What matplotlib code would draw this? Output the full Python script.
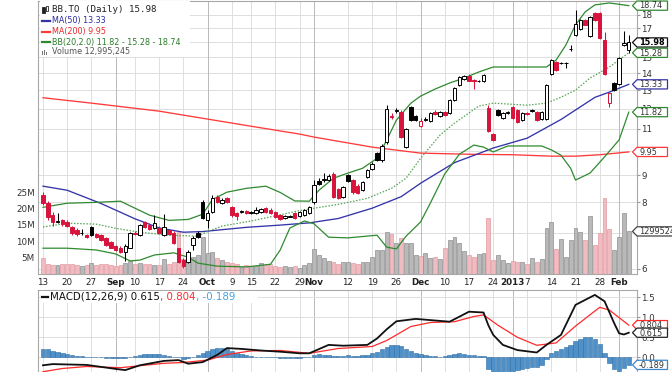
import numpy as np
import pandas as pd
import matplotlib
matplotlib.use('Agg')
import matplotlib.pyplot as plt
from matplotlib.patches import Rectangle, Polygon
from matplotlib.lines import Line2D
from matplotlib.ticker import FixedLocator, NullLocator
from matplotlib.transforms import blended_transform_factory, IdentityTransform

plt.rcParams['font.family'] = ['DejaVu Sans']

# ---------------- data ----------------
holidays = ['2012-09-03', '2012-10-08', '2012-12-25', '2012-12-26', '2013-01-01']
days = pd.bdate_range('2012-08-13', '2013-02-05', freq='C', holidays=holidays)

prev_close = 8.40
opens = [8.25, 7.97, 7.57, 7.36, 7.40, 7.34, 7.18, 7.09, 7.00, 6.94,
         7.18, 6.97, 6.94, 6.85, 6.73, 6.61, 6.56, 6.45, 6.58, 7.02,
         6.94, 7.34, 7.25, 7.15, 7.15, 6.94, 7.09, 7.00, 6.56, 6.23,
         6.18, 6.64, 7.00, 8.00, 7.40, 7.67, 8.18, 7.97, 8.14, 7.83,
         7.63, 7.68, 7.70, 7.65, 7.63, 7.67, 7.80, 7.73, 7.67, 7.57,
         7.47, 7.52, 7.63, 7.53, 7.57, 7.63, 8.00, 8.77, 8.82, 8.80,
         9.04, 8.47, 8.18, 9.00, 8.80, 8.60, 8.43, 8.92, 9.23, 9.90,
         9.60, 10.38, 11.60, 11.90, 11.82, 10.16, 12.08, 11.60, 11.15, 11.44,
         11.38, 11.85, 11.62, 11.82, 11.77, 12.45, 13.29, 13.62, 13.82, 13.60,
         13.50, 13.52, 12.03, 10.75, 11.92, 11.52, 11.80, 12.08, 11.92, 11.42,
         11.78, 11.90, 11.82, 11.47, 11.47, 13.94, 14.68, 14.60, 14.63, 15.52,
         16.50, 16.95, 17.61, 16.44, 18.16, 18.16, 16.15, 12.29, 13.40, 13.35,
         15.80, 15.47]
highs = [8.36, 8.04, 7.67, 7.63, 7.43, 7.40, 7.21, 7.15, 7.12, 6.97,
         7.21, 7.00, 6.97, 6.88, 6.76, 6.64, 6.61, 6.67, 7.03, 7.06,
         7.28, 7.37, 7.31, 7.57, 7.21, 7.60, 7.12, 7.06, 6.58, 6.28,
         6.50, 6.91, 7.06, 8.07, 7.73, 8.25, 8.25, 8.14, 8.18, 7.87,
         7.67, 7.73, 7.73, 7.72, 7.83, 7.80, 7.83, 7.80, 7.70, 7.60,
         7.57, 7.57, 7.67, 7.70, 7.77, 7.87, 8.80, 8.87, 9.07, 9.04,
         9.11, 8.50, 8.58, 9.04, 8.84, 8.66, 8.77, 9.23, 9.52, 9.96,
         10.30, 12.18, 11.80, 12.05, 11.92, 11.02, 12.15, 11.65, 11.50, 11.55,
         11.82, 11.92, 11.87, 11.87, 12.50, 13.17, 13.82, 13.88, 13.92, 13.66,
         13.58, 13.95, 12.18, 10.80, 12.00, 11.82, 11.87, 12.13, 11.97, 11.82,
         11.85, 12.00, 11.87, 11.87, 13.35, 14.87, 14.75, 14.70, 14.66, 15.80,
         18.40, 17.70, 17.70, 17.90, 18.25, 18.25, 16.75, 12.90, 13.46, 15.00,
         16.80, 16.50]
lows = [7.90, 7.40, 7.21, 7.31, 7.22, 7.18, 6.94, 6.91, 6.94, 6.85,
        6.91, 6.85, 6.76, 6.61, 6.56, 6.47, 6.42, 6.20, 6.56, 6.94,
        6.91, 7.15, 7.09, 7.12, 6.97, 6.91, 6.94, 6.67, 6.15, 6.02,
        6.15, 6.50, 6.85, 7.43, 7.15, 7.63, 7.97, 7.94, 7.97, 7.50,
        7.40, 7.63, 7.60, 7.60, 7.60, 7.63, 7.63, 7.60, 7.47, 7.40,
        7.43, 7.50, 7.43, 7.50, 7.53, 7.60, 7.94, 8.62, 8.73, 8.77,
        8.14, 8.12, 8.14, 8.73, 8.29, 8.30, 8.40, 8.88, 9.19, 9.56,
        9.52, 10.30, 11.45, 11.80, 10.55, 10.10, 11.38, 11.38, 11.10, 11.38,
        11.33, 11.70, 11.57, 11.62, 11.72, 12.40, 13.23, 13.58, 13.50, 13.06,
        13.45, 13.45, 10.84, 10.42, 11.60, 11.47, 11.75, 11.47, 11.28, 11.37,
        11.65, 11.85, 11.37, 11.42, 11.42, 13.88, 14.12, 14.55, 14.30, 15.40,
        16.40, 16.90, 17.20, 16.35, 17.55, 16.20, 13.88, 12.08, 12.95, 13.29,
        15.75, 15.28]
closes = [7.97, 7.50, 7.34, 7.38, 7.28, 7.21, 7.00, 6.97, 7.02, 6.88,
          6.94, 6.88, 6.79, 6.64, 6.58, 6.50, 6.45, 6.61, 7.00, 6.99,
          7.25, 7.19, 7.12, 7.31, 7.00, 7.18, 6.97, 6.70, 6.18, 6.07,
          6.45, 6.85, 6.88, 7.47, 7.63, 8.14, 8.00, 8.07, 8.00, 7.57,
          7.53, 7.70, 7.63, 7.67, 7.73, 7.77, 7.67, 7.63, 7.50, 7.43,
          7.53, 7.54, 7.47, 7.67, 7.73, 7.83, 8.62, 8.66, 8.84, 8.96,
          8.18, 8.16, 8.55, 8.77, 8.36, 8.33, 8.73, 9.19, 9.44, 9.60,
          10.21, 11.97, 11.57, 11.93, 10.61, 10.98, 11.42, 11.44, 11.40, 11.46,
          11.77, 11.75, 11.82, 11.67, 12.45, 13.12, 13.76, 13.80, 13.55, 13.50,
          13.52, 13.88, 10.88, 10.47, 11.67, 11.77, 11.82, 11.52, 11.33, 11.77,
          11.74, 11.92, 11.42, 11.82, 13.29, 14.81, 14.18, 14.62, 14.64, 15.54,
          17.31, 17.61, 17.24, 17.84, 17.61, 16.29, 13.94, 12.83, 13.00, 14.94,
          15.92, 15.98]
volume_m = [4.8, 2.8, 2.5, 2.6, 2.8, 3.0, 3.0, 2.7, 2.2, 2.5,
            3.2, 2.6, 2.8, 3.0, 2.6, 2.2, 2.5, 3.3, 3.8, 3.0,
            3.2, 2.8, 3.0, 2.7, 2.6, 4.5, 3.0, 3.5, 13.0, 4.5,
            4.8, 5.0, 5.7, 11.3, 6.3, 6.6, 4.8, 4.2, 3.6, 3.2,
            2.8, 2.0, 2.6, 2.2, 2.3, 3.2, 2.6, 2.8, 2.2, 2.0,
            2.4, 2.0, 2.2, 1.8, 2.5, 3.2, 7.6, 5.7, 4.8, 3.8,
            3.5, 2.8, 3.4, 3.4, 3.2, 2.8, 3.4, 3.5, 5.1, 7.2,
            7.2, 12.8, 12.2, 9.4, 11.0, 9.4, 9.4, 5.7, 5.5, 6.3,
            4.8, 5.0, 4.4, 7.9, 10.3, 11.3, 9.4, 7.0, 5.7, 5.1,
            6.0, 6.3, 17.0, 4.2, 5.7, 4.2, 3.2, 3.8, 3.5, 3.5,
            3.0, 4.8, 3.5, 4.5, 14.0, 16.0, 7.6, 10.6, 5.1, 10.3,
            14.0, 12.8, 10.3, 17.7, 8.8, 12.6, 23.3, 13.7, 7.3, 11.3,
            18.7, 12.995245]

ma50_dates = ['2012-08-13', '2012-08-20', '2012-08-29', '2012-09-10', '2012-09-17', '2012-09-24',
              '2012-09-28', '2012-10-12', '2012-10-23', '2012-10-31', '2012-11-08', '2012-11-19',
              '2012-11-27', '2012-12-03', '2012-12-12', '2012-12-19', '2012-12-24', '2013-01-07',
              '2013-01-16', '2013-01-25', '2013-01-30', '2013-02-05']
ma50_vals = [8.58, 8.43, 7.96, 7.45, 7.16, 7.03, 7.05, 7.18, 7.25, 7.32, 7.46, 7.80,
             8.20, 8.69, 9.50, 9.88, 10.12, 10.56, 11.45, 12.60, 12.89, 13.33]

ma200_dates = ['2012-08-13', '2012-08-27', '2012-09-17', '2012-10-01', '2012-10-15', '2012-10-29',
               '2012-11-01', '2012-11-19', '2012-12-03', '2012-12-17', '2013-01-02', '2013-01-14',
               '2013-01-21', '2013-01-28', '2013-02-05']
ma200_vals = [12.58, 12.29, 11.87, 11.47, 11.12, 10.75, 10.61, 10.16, 9.90, 9.85, 9.83, 9.77,
              9.77, 9.83, 9.95]

bb_up_dates = ['2012-08-13', '2012-08-20', '2012-08-28', '2012-09-05', '2012-09-10', '2012-09-13',
               '2012-09-19', '2012-09-25', '2012-09-28', '2012-10-02', '2012-10-05', '2012-10-12',
               '2012-10-18', '2012-10-23', '2012-10-26', '2012-10-31', '2012-11-02', '2012-11-07',
               '2012-11-12', '2012-11-15', '2012-11-20', '2012-11-22', '2012-11-26', '2012-11-29',
               '2012-12-03', '2012-12-06', '2012-12-11', '2012-12-14', '2012-12-19', '2012-12-24',
               '2013-01-03', '2013-01-11', '2013-01-15', '2013-01-17', '2013-01-21', '2013-01-23',
               '2013-01-25', '2013-01-30', '2013-02-05']
bb_up_vals = [7.83, 7.97, 8.00, 8.04, 7.80, 7.57, 7.40, 7.43, 7.60, 8.10, 8.36, 8.50,
              8.58, 8.35, 8.05, 8.04, 8.43, 8.88, 9.08, 9.27, 9.68, 10.47, 11.42, 12.29,
              12.67, 13.06, 13.41, 13.70, 14.06, 14.37, 14.37, 14.37, 14.81, 15.80, 17.24, 18.24,
              18.80, 18.96, 18.74]

bb_mid_dates = ['2012-08-13', '2012-08-20', '2012-08-28', '2012-09-04', '2012-09-11', '2012-09-19',
                '2012-09-27', '2012-10-01', '2012-10-04', '2012-10-15', '2012-10-23', '2012-10-29',
                '2012-11-01', '2012-11-08', '2012-11-16', '2012-11-23', '2012-11-28', '2012-12-03',
                '2012-12-07', '2012-12-12', '2012-12-19', '2012-12-24', '2013-01-07', '2013-01-11',
                '2013-01-16', '2013-01-21', '2013-01-24', '2013-01-30', '2013-02-05']
bb_mid_vals = [7.19, 7.31, 7.28, 7.15, 7.03, 6.94, 6.91, 7.05, 7.22, 7.38, 7.58, 7.72,
               7.80, 7.93, 8.14, 8.50, 8.88, 9.68, 10.70, 11.27, 12.13, 12.29, 12.18, 12.29,
               12.61, 13.00, 13.70, 14.37, 15.28]

bb_low_dates = ['2012-08-13', '2012-08-20', '2012-08-28', '2012-09-04', '2012-09-07', '2012-09-11',
                '2012-09-14', '2012-09-20', '2012-09-25', '2012-09-27', '2012-10-03', '2012-10-12',
                '2012-10-19', '2012-10-23', '2012-10-25', '2012-10-30', '2012-11-01', '2012-11-06',
                '2012-11-12', '2012-11-20', '2012-11-22', '2012-11-26', '2012-11-28', '2012-12-03',
                '2012-12-05', '2012-12-10', '2012-12-13', '2012-12-18', '2012-12-20', '2012-12-24',
                '2012-12-31', '2013-01-10', '2013-01-14', '2013-01-16', '2013-01-18', '2013-01-21',
                '2013-01-24', '2013-01-29', '2013-02-01', '2013-02-05']
bb_low_vals = [6.56, 6.56, 6.51, 6.40, 6.21, 6.23, 6.37, 6.43, 6.31, 6.15, 6.07, 6.05,
               6.12, 6.51, 7.16, 7.38, 7.29, 6.88, 6.86, 6.94, 6.59, 6.54, 6.91, 7.35,
               7.97, 9.05, 9.85, 10.25, 10.16, 9.95, 10.21, 10.21, 10.04, 9.81, 9.27, 8.81,
               9.08, 9.74, 10.48, 11.82]

macd_dates = ['2012-08-13', '2012-08-15', '2012-08-24', '2012-09-04', '2012-09-06', '2012-09-11',
              '2012-09-18', '2012-09-21', '2012-09-25', '2012-09-28', '2012-10-03', '2012-10-05',
              '2012-10-11', '2012-10-17', '2012-10-23', '2012-10-29', '2012-10-31', '2012-11-06',
              '2012-11-09', '2012-11-16', '2012-11-20', '2012-11-22', '2012-11-26', '2012-11-30',
              '2012-12-05', '2012-12-11', '2012-12-17', '2012-12-20', '2012-12-21', '2012-12-24',
              '2012-12-28', '2013-01-03', '2013-01-09', '2013-01-11', '2013-01-16', '2013-01-21',
              '2013-01-25', '2013-01-29', '2013-01-31', '2013-02-01', '2013-02-04', '2013-02-05']
macd_vals = [-0.20, -0.17, -0.19, -0.29, -0.32, -0.20, -0.09, -0.07, -0.16, -0.12, 0.06, 0.23,
             0.21, 0.17, 0.14, 0.10, 0.10, 0.31, 0.29, 0.31, 0.47, 0.70, 0.90, 0.96,
             0.93, 0.89, 1.14, 1.12, 0.80, 0.56, 0.31, 0.18, 0.12, 0.31, 0.56, 1.31,
             1.56, 1.40, 0.85, 0.60, 0.57, 0.615]

signal_dates = ['2012-08-13', '2012-08-17', '2012-08-24', '2012-09-05', '2012-09-11', '2012-09-18',
                '2012-09-24', '2012-10-01', '2012-10-05', '2012-10-15', '2012-10-23', '2012-10-31',
                '2012-11-08', '2012-11-19', '2012-11-22', '2012-11-29', '2012-12-05', '2012-12-12',
                '2012-12-18', '2012-12-20', '2012-12-27', '2013-01-03', '2013-01-09', '2013-01-15',
                '2013-01-21', '2013-01-28', '2013-01-30', '2013-02-05']
signal_vals = [-0.36, -0.28, -0.23, -0.26, -0.21, -0.15, -0.13, -0.07, 0.07, 0.16, 0.17, 0.10,
               0.22, 0.27, 0.42, 0.77, 0.87, 0.89, 1.02, 1.06, 0.80, 0.50, 0.30, 0.36,
               0.78, 1.25, 1.18, 0.804]

hist_vals = [0.22, 0.20, 0.17, 0.14, 0.11, 0.08, 0.06, 0.04, 0.03, 0.02,
             0.01, 0.01, 0.00, -0.01, -0.01, -0.02, -0.02, -0.01, 0.02, 0.04,
             0.06, 0.08, 0.09, 0.09, 0.08, 0.06, 0.04, 0.02, 0.00, -0.03,
             -0.02, 0.02, 0.06, 0.11, 0.16, 0.20, 0.23, 0.23, 0.21, 0.17,
             0.12, 0.08, 0.05, 0.03, 0.02, 0.02, 0.01, 0.00, 0.00, -0.01,
             -0.01, -0.02, -0.02, -0.01, 0.00, 0.01, 0.06, 0.08, 0.07, 0.05,
             0.04, 0.03, 0.04, 0.05, 0.04, 0.03, 0.05, 0.07, 0.10, 0.14,
             0.20, 0.26, 0.30, 0.31, 0.28, 0.22, 0.16, 0.12, 0.08, 0.06,
             0.04, 0.03, 0.02, 0.03, 0.06, 0.09, 0.10, 0.09, 0.07, 0.05,
             0.04, 0.03, -0.30, -0.36, -0.37, -0.36, -0.35, -0.33, -0.31, -0.29,
             -0.27, -0.25, -0.23, -0.20, -0.05, 0.10, 0.17, 0.22, 0.26, 0.32,
             0.40, 0.47, 0.51, 0.50, 0.45, 0.33, 0.12, -0.14, -0.30, -0.33,
             -0.26, -0.189]

tick_dates = ['2012-08-13', '2012-08-20', '2012-08-27', '2012-09-04', '2012-09-10', '2012-09-17',
              '2012-09-24', '2012-10-01', '2012-10-09', '2012-10-15', '2012-10-22', '2012-10-29',
              '2012-11-01', '2012-11-12', '2012-11-19', '2012-11-26', '2012-12-03', '2012-12-10',
              '2012-12-17', '2012-12-24', '2013-01-02', '2013-01-07', '2013-01-14', '2013-01-21',
              '2013-01-28', '2013-02-01']
tick_labels = ['13', '20', '27', 'Sep', '10', '17', '24', 'Oct', '9', '15', '22', '29', 'Nov',
               '12', '19', '26', 'Dec', '10', '17', '24', '2013', '7', '14', '21', '28', 'Feb']

price_ticks = list(range(6, 19))
price_tick_hidden = [7, 10, 16]   # fully covered by the value tags
vol_ticks_m = [5, 10, 15, 20, 25]
macd_ticks = [0.0, 0.5, 1.0, 1.5]


def pos(ds):
    return days.get_indexer(pd.to_datetime(ds))


# ---------------- styles ----------------
RED = '#d8143c'
BLACK = '#000000'
NAVY = '#3434a8'
MA200C = '#ff3a3a'
GREEN = '#2f8a2f'
GRID = '#dedede'
GRID_M = '#b9b9b9'

W, H = 672, 372
fig = plt.figure(figsize=(W / 100, H / 100), dpi=100, facecolor='white')


def fy(y):
    return 1 - y / H


rect_p = [38.3 / W, fy(273.5), (636.5 - 38.3) / W, (273.5 - 1) / H]
rect_m = [38.3 / W, fy(373), (636.5 - 38.3) / W, (373 - 290) / H]

ax_vol = fig.add_axes(rect_p, facecolor='white')
ax = fig.add_axes(rect_p, sharex=ax_vol, facecolor='none')
ax_m = fig.add_axes(rect_m, sharex=ax_vol, facecolor='white')

n = len(closes)
x = np.arange(n)
o = np.array(opens); c = np.array(closes); h = np.array(highs); l = np.array(lows)
pc = np.concatenate([[prev_close], c[:-1]])
down = c < pc
cols = np.where(down, RED, BLACK)

ax.set_yscale('log')
ax.set_ylim(5.88, 19.12)
ax.set_xlim(-0.97, 122.6)
ax_vol.set_ylim(0, 84.1)
ax_m.set_ylim(-0.3925, 1.6825)

tick_pos = pos(tick_dates)
month_flag = [i > 0 and pd.Timestamp(tick_dates[i]).month != pd.Timestamp(tick_dates[i - 1]).month
              for i in range(len(tick_dates))]

# grid
tr_grid = blended_transform_factory(ax_vol.transAxes, ax.transData)
for p in price_ticks:
    ax_vol.plot([0, 1], [p, p], transform=tr_grid, color=GRID, lw=0.7, zorder=0)
for t, mflag in zip(tick_pos, month_flag):
    ax_vol.axvline(t, color=GRID_M if mflag else GRID, lw=0.7, zorder=0)
    ax_m.axvline(t, color=GRID_M if mflag else GRID, lw=0.7, zorder=0)
for v in macd_ticks:
    ax_m.axhline(v, color=GRID, lw=0.7, zorder=0)

# volume
vface = np.where(down, '#f1bcc1', '#b9b9b9')
vedge = np.where(down, '#e39aa2', '#8f8f8f')
ax_vol.bar(x, volume_m, width=0.8, color=vface, edgecolor=vedge, lw=0.5, zorder=2)

# overlays
ax.plot(pos(ma200_dates), ma200_vals, color=MA200C, lw=0.95, zorder=3)
ax.plot(pos(ma50_dates), ma50_vals, color=NAVY, lw=0.95, zorder=3)
ax.plot(pos(bb_up_dates), bb_up_vals, color=GREEN, lw=0.9, zorder=3)
ax.plot(pos(bb_low_dates), bb_low_vals, color=GREEN, lw=0.9, zorder=3)
ax.plot(pos(bb_mid_dates), bb_mid_vals, color='#55a555', lw=0.9, ls=(0, (1.2, 1.3)), zorder=3)

# candles
ax.vlines(x, l, h, colors=cols, lw=0.75, zorder=4)
body_lo = np.minimum(o, c)
body_h = np.maximum(np.abs(c - o), 0.004)
faces = np.where(c > o, 'white', cols)
ax.bar(x, body_h, bottom=body_lo, width=0.72, color=faces, edgecolor=cols, lw=0.7, zorder=5)

# MACD panel
ax_m.bar(x, hist_vals, width=0.9, color='#4f90c8', edgecolor='#2e6ea6', lw=0.4, zorder=2)
ax_m.plot(pos(signal_dates), signal_vals, color='#ff2a2a', lw=0.9, zorder=3)
ax_m.plot(pos(macd_dates), macd_vals, color='#111111', lw=1.3, zorder=4)

# axes styling
for s in ax_vol.spines.values():
    s.set_visible(False)
for a in (ax, ax_m):
    for s in a.spines.values():
        s.set_color('#a8a8a8')
        s.set_linewidth(0.8)
ax_m.spines['bottom'].set_visible(False)

ax.yaxis.set_major_locator(FixedLocator(price_ticks))
ax.yaxis.set_minor_locator(NullLocator())
ax.set_yticklabels(['' if p in price_tick_hidden else str(p) for p in price_ticks])
ax.tick_params(axis='y', which='both', left=False, labelleft=False, right=True, labelright=True,
               length=2, pad=1.5, color='#999999', labelcolor='#333333', labelsize=6.3)

ax_vol.set_yticks(vol_ticks_m)
ax_vol.set_yticklabels([f'{v}M' for v in vol_ticks_m])
ax_vol.tick_params(axis='y', length=0, pad=2.5, labelsize=6.3, labelcolor='#333333')
ax_vol.tick_params(axis='x', bottom=False, labelbottom=False)

ax.set_xticks(tick_pos)
ax.set_xticklabels(tick_labels)
ax.tick_params(axis='x', length=0, pad=3, labelsize=6.3, labelcolor='#222222')
for lab, mflag in zip(ax.get_xticklabels(), month_flag):
    if mflag:
        lab.set_fontweight('bold')

ax_m.set_yticks(macd_ticks)
ax_m.set_yticklabels([f'{v:.1f}' for v in macd_ticks])
ax_m.tick_params(axis='y', left=False, labelleft=False, right=True, labelright=True,
                 length=2, pad=1.5, color='#999999', labelcolor='#333333', labelsize=6.3)
ax_m.tick_params(axis='x', bottom=False, labelbottom=False)


# value tags on the right (drawn over the axis labels, as in the reference)
def tag(a, val, text, edge, bold=False, tc='#333333', width=31):
    xr = a.transAxes.transform((1, 0))[0]
    yd = a.transData.transform((0, val))[1]
    hh = 4.6
    pts = [(xr - 4, yd), (xr + 0.5, yd + hh), (xr + width, yd + hh),
           (xr + width, yd - hh), (xr + 0.5, yd - hh)]
    fig.add_artist(Polygon(pts, closed=True, transform=IdentityTransform(), fc='white',
                           ec=edge, lw=0.9, zorder=6))
    fig.text(xr + 2.5, yd - 0.3, text, transform=IdentityTransform(), ha='left', va='center',
             fontsize=5.9, color=tc, fontweight='bold' if bold else 'normal', zorder=7)


tag(ax, bb_up_vals[-1], f'{bb_up_vals[-1]:.2f}', GREEN)
tag(ax, closes[-1], f'{closes[-1]:.2f}', '#111111', bold=True, tc='#000000')
tag(ax, bb_mid_vals[-1], f'{bb_mid_vals[-1]:.2f}', GREEN)
tag(ax, ma50_vals[-1], f'{ma50_vals[-1]:.2f}', NAVY)
tag(ax, bb_low_vals[-1], f'{bb_low_vals[-1]:.2f}', GREEN)
tag(ax, ma200_vals[-1], f'{ma200_vals[-1]:.2f}', MA200C)
tag(ax_vol, volume_m[-1], f'{round(volume_m[-1] * 1e6)}', '#444444', width=60)
tag(ax_m, signal_vals[-1], f'{signal_vals[-1]:.3f}', '#ff2a2a')
tag(ax_m, macd_vals[-1], f'{macd_vals[-1]:.3f}', '#222222')
tag(ax_m, hist_vals[-1], f'{hist_vals[-1]:.3f}', '#3a86cc')

# legends
fig.add_artist(Rectangle((39.5 / W, fy(56.5)), (190 - 39.5) / W, (56.5 - 1.2) / H,
                         transform=fig.transFigure, fc='white', ec='none', zorder=4))
fig.add_artist(Rectangle((39.5 / W, fy(303)), (258 - 39.5) / W, (303 - 290.6) / H,
                         transform=fig.transFigure, fc='white', ec='none', zorder=4))

# candle icon
for xx, yy0, yy1, f in [(42.3, 7.0, 12.5, '#222222'), (45.6, 6.0, 11.0, 'white')]:
    fig.add_artist(Rectangle((xx / W, fy(yy1)), 2.2 / W, (yy1 - yy0) / H, transform=fig.transFigure,
                             fc=f, ec='#222222', lw=0.6, zorder=5))
fig.text(51.5 / W, fy(9.6), f'BB.TO (Daily) {closes[-1]:.2f}', fontsize=6.6, family='DejaVu Sans Mono',
         color='#222222', va='center', ha='left', zorder=6)

leg_rows = [(20.8, NAVY, f'MA(50) {ma50_vals[-1]:.2f}', '#2b2ba0'),
            (31.5, MA200C, f'MA(200) {ma200_vals[-1]:.2f}', '#e82a2a'),
            (42.2, GREEN, f'BB(20,2.0) {bb_low_vals[-1]:.2f} - {bb_mid_vals[-1]:.2f} - {bb_up_vals[-1]:.2f}',
             '#2a7d2a')]
for yy, lc, txt, tc in leg_rows:
    fig.add_artist(Line2D([41.5 / W, 49.5 / W], [fy(yy), fy(yy)], transform=fig.transFigure,
                          color=lc, lw=1.6, zorder=5))
    fig.text(51.5 / W, fy(yy), txt, fontsize=5.8, color=tc, va='center', ha='left', zorder=6)

for xx, hh_ in [(41.8, 4.0), (43.8, 5.5), (45.8, 3.0)]:
    fig.add_artist(Rectangle((xx / W, fy(55.0)), 1.5 / W, hh_ / H, transform=fig.transFigure,
                             fc='#777777', ec='none', zorder=5))
fig.text(51.5 / W, fy(51.8), f'Volume {round(volume_m[-1] * 1e6):,}', fontsize=5.8, color='#555555',
         va='center', ha='left', zorder=6)

# MACD legend, multi-coloured
fig.add_artist(Line2D([41.5 / W, 48.5 / W], [fy(296.8), fy(296.8)], transform=fig.transFigure,
                      color='#111111', lw=1.6, zorder=5))
renderer = fig.canvas.get_renderer()
xcur = 50.5
for txt, tc in [(f'MACD(12,26,9) {macd_vals[-1]:.3f}', '#111111'),
                (f', {signal_vals[-1]:.3f}', '#ff2a2a'),
                (f', {hist_vals[-1]:.3f}', '#46a2e0')]:
    t = fig.text(xcur / W, fy(296.8), txt, fontsize=7.4, color=tc, va='center', ha='left', zorder=6)
    xcur += t.get_window_extent(renderer=renderer).width

fig.savefig('out.png', dpi=100, facecolor='white')
